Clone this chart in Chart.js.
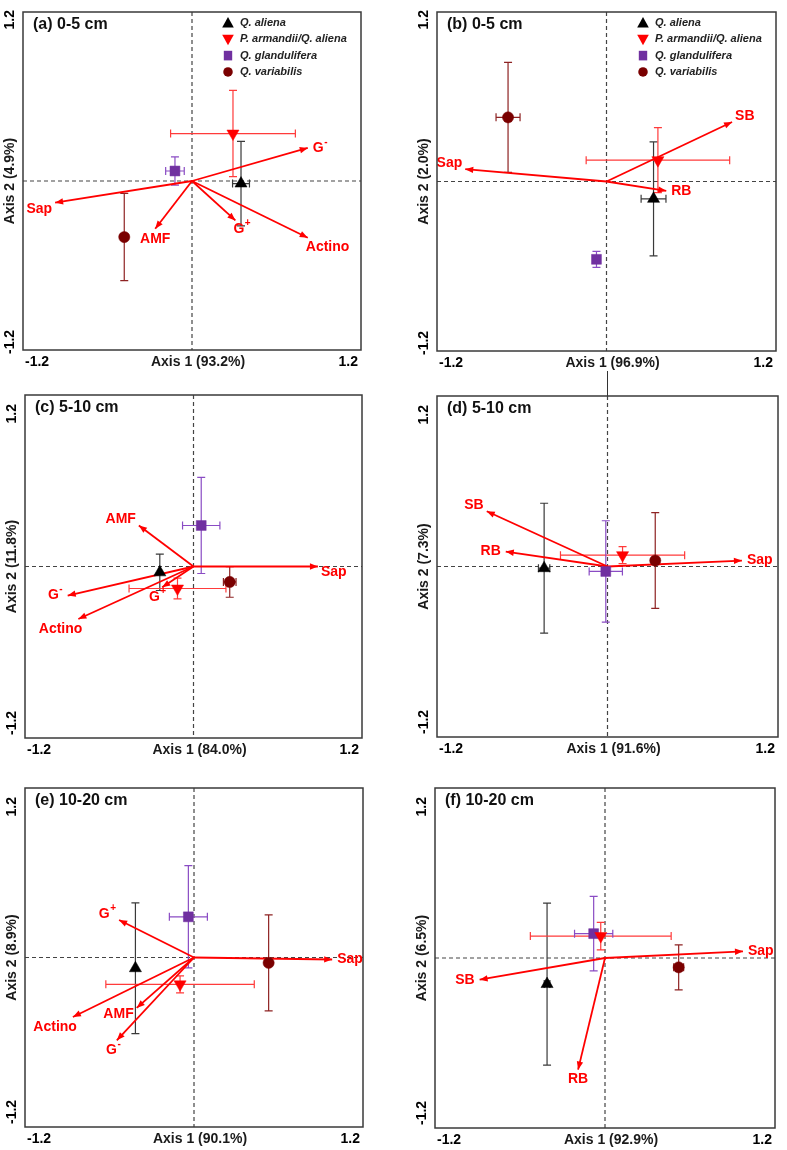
<!DOCTYPE html>
<html><head><meta charset="utf-8">
<script src="https://cdn.jsdelivr.net/npm/chart.js@4.4.0/dist/chart.umd.min.js"></script>
<style>
html,body{margin:0;padding:0;background:#fff;}
body{width:787px;height:1150px;position:relative;overflow:hidden;}
canvas{position:absolute;}
#seam{position:absolute;left:607px;top:371px;width:1px;height:25px;background:#333;}
</style></head><body>
<div id="seam"></div>
<script>
// ---------------- DATA ----------------
const SPECIES = ['Q. aliena', 'P. armandii/Q. aliena', 'Q. glandulifera', 'Q. variabilis'];
const TICK_LABELS = ['-1.2', '1.2'];
const TICK_VALUES = [-1.2, 1.2];

// (a) 0-5 cm, PLFA groups
const TITLE_A = '(a) 0-5 cm';
const AXIS1_A = 'Axis 1 (93.2%)';
const AXIS2_A = 'Axis 2 (4.9%)';
const SITE_X_A = [0.348, 0.291, -0.121, -0.481];
const SITE_Y_A = [-0.018, 0.337, 0.071, -0.398];
const ERR_X_A = [0.06, 0.443, 0.066, 0];
const ERR_Y_A = [0.30, 0.306, 0.10, 0.31];
const VARS_A = ['G⁻', 'Sap', 'AMF', 'G⁺', 'Actino'];
const VAR_X_A = [0.822, -0.972, -0.261, 0.308, 0.822];
const VAR_Y_A = [0.235, -0.154, -0.339, -0.280, -0.403];

// (b) 0-5 cm, bacteria groups
const TITLE_B = '(b) 0-5 cm';
const AXIS1_B = 'Axis 1 (96.9%)';
const AXIS2_B = 'Axis 2 (2.0%)';
const SITE_X_B = [0.333, 0.364, -0.071, -0.697];
const SITE_Y_B = [-0.123, 0.151, -0.551, 0.454];
const ERR_X_B = [0.088, 0.508, 0, 0.085];
const ERR_Y_B = [0.404, 0.23, 0.057, 0.39];
const VARS_B = ['SB', 'Sap', 'RB'];
const VAR_X_B = [0.889, -1.0, 0.423];
const VAR_Y_B = [0.421, 0.087, -0.066];

// (c) 5-10 cm
const TITLE_C = '(c) 5-10 cm';
const AXIS1_C = 'Axis 1 (84.0%)';
const AXIS2_C = 'Axis 2 (11.8%)';
const SITE_X_C = [-0.24, -0.114, 0.055, 0.258];
const SITE_Y_C = [-0.041, -0.154, 0.287, -0.108];
const ERR_X_C = [0, 0.345, 0.133, 0.045];
const ERR_Y_C = [0.127, 0.072, 0.336, 0.107];
const VARS_C = ['AMF', 'Sap', 'G⁻', 'Actino', 'G⁺'];
const VAR_X_C = [-0.389, 0.886, -0.896, -0.82, -0.223];
const VAR_Y_C = [0.287, 0.0, -0.203, -0.367, -0.145];

// (d) 5-10 cm
const TITLE_D = '(d) 5-10 cm';
const AXIS1_D = 'Axis 1 (91.6%)';
const AXIS2_D = 'Axis 2 (7.3%)';
const SITE_X_D = [-0.446, 0.106, -0.012, 0.336];
const SITE_Y_D = [-0.012, 0.08, -0.035, 0.042];
const ERR_X_D = [0.04, 0.437, 0.117, 0];
const ERR_Y_D = [0.457, 0.06, 0.357, 0.337];
const VARS_D = ['SB', 'RB', 'Sap'];
const VAR_X_D = [-0.85, -0.716, 0.946];
const VAR_Y_D = [0.389, 0.105, 0.042];

// (e) 10-20 cm
const TITLE_E = '(e) 10-20 cm';
const AXIS1_E = 'Axis 1 (90.1%)';
const AXIS2_E = 'Axis 2 (8.9%)';
const SITE_X_E = [-0.416, -0.099, -0.04, 0.53];
const SITE_Y_E = [-0.076, -0.19, 0.288, -0.038];
const ERR_X_E = [0, 0.527, 0.135, 0];
const ERR_Y_E = [0.463, 0.06, 0.362, 0.34];
const VARS_E = ['G⁺', 'Sap', 'Actino', 'AMF', 'G⁻'];
const VAR_X_E = [-0.532, 0.981, -0.86, -0.407, -0.548];
const VAR_Y_E = [0.265, -0.014, -0.421, -0.357, -0.586];

// (f) 10-20 cm
const TITLE_F = '(f) 10-20 cm';
const AXIS1_F = 'Axis 1 (92.9%)';
const AXIS2_F = 'Axis 2 (6.5%)';
const SITE_X_F = [-0.409, -0.03, -0.08, 0.52];
const SITE_Y_F = [-0.184, 0.155, 0.172, -0.066];
const ERR_X_F = [0.02, 0.497, 0.135, 0.035];
const ERR_Y_F = [0.572, 0.097, 0.263, 0.159];
const VARS_F = ['Sap', 'SB', 'RB'];
const VAR_X_F = [0.974, -0.885, -0.19];
const VAR_Y_F = [0.047, -0.153, -0.788];

// ---------------- STYLE / LAYOUT ----------------
const FONT = "'Liberation Sans', Arial, Helvetica, sans-serif";
const MARK_COLORS = ['#000000', '#ff0000', '#7030a0', '#7a0000'];
const ERR_COLORS = ['#3a3a3a', '#ff3b3b', '#8a4cc4', '#8e2323'];
const MARK_STYLES = ['triangle', 'triangle', 'rect', 'circle'];
const MARK_ROT = [0, 180, 0, 0];
const MARK_RAD = [7, 7, 7, 5.6];
const ARROW_COLOR = '#ff0000';

// label placement codes: [textAlign, dx, dy]
const PLACE = {
  r: ['left', 5, 0], l: ['right', -5, 0],
  ra: ['left', 3, -6], rb: ['left', 3, 6],
  la: ['right', -3, -6], lb: ['right', -3, 6],
  b: ['center', 0, 10], bl: ['right', 4, 10], br: ['left', -2, 9]
};

const PANELS = [
  {title: TITLE_A, ax1: AXIS1_A, ax2: AXIS2_A, sx: SITE_X_A, sy: SITE_Y_A, ex: ERR_X_A, ey: ERR_Y_A,
   vars: VARS_A, vx: VAR_X_A, vy: VAR_Y_A, place: ['r', 'lb', 'b', 'br', 'br'], legend: true,
   canvas: [0, 0, 393, 382], box: [23, 12, 361, 350], yt: [-2, 4]},
  {title: TITLE_B, ax1: AXIS1_B, ax2: AXIS2_B, sx: SITE_X_B, sy: SITE_Y_B, ex: ERR_X_B, ey: ERR_Y_B,
   vars: VARS_B, vx: VAR_X_B, vy: VAR_Y_B, place: ['ra', 'la', 'r'], legend: true,
   canvas: [393, 0, 394, 382], box: [437, 12, 776, 351], yt: [-2, 4]},
  {title: TITLE_C, ax1: AXIS1_C, ax2: AXIS2_C, sx: SITE_X_C, sy: SITE_Y_C, ex: ERR_X_C, ey: ERR_Y_C,
   vars: VARS_C, vx: VAR_X_C, vy: VAR_Y_C, place: ['la', 'rb', 'l', 'bl', 'bl'], legend: false,
   canvas: [0, 382, 393, 390], box: [25, 395, 362, 738], yt: [9, -3]},
  {title: TITLE_D, ax1: AXIS1_D, ax2: AXIS2_D, sx: SITE_X_D, sy: SITE_Y_D, ex: ERR_X_D, ey: ERR_Y_D,
   vars: VARS_D, vx: VAR_X_D, vy: VAR_Y_D, place: ['la', 'l', 'r'], legend: false,
   canvas: [393, 382, 394, 390], box: [437, 396, 778, 737], yt: [9, -3]},
  {title: TITLE_E, ax1: AXIS1_E, ax2: AXIS2_E, sx: SITE_X_E, sy: SITE_Y_E, ex: ERR_X_E, ey: ERR_Y_E,
   vars: VARS_E, vx: VAR_X_E, vy: VAR_Y_E, place: ['la', 'r', 'bl', 'lb', 'bl'], legend: false,
   canvas: [0, 772, 393, 378], box: [25, 788, 363, 1127], yt: [9, -3]},
  {title: TITLE_F, ax1: AXIS1_F, ax2: AXIS2_F, sx: SITE_X_F, sy: SITE_Y_F, ex: ERR_X_F, ey: ERR_Y_F,
   vars: VARS_F, vx: VAR_X_F, vy: VAR_Y_F, place: ['r', 'l', 'b'], legend: false,
   canvas: [393, 772, 394, 378], box: [435, 788, 775, 1128], yt: [9, -3]}
];

// ---------------- DRAWING HELPERS ----------------
function drawLabel(ctx, text, x, y, align) {
  let base = text, sup = '';
  if (text.endsWith('⁻')) { base = text.slice(0, -1); sup = '-'; }
  else if (text.endsWith('⁺')) { base = text.slice(0, -1); sup = '+'; }
  const F1 = 'bold 14px ' + FONT, F2 = 'bold 10px ' + FONT;
  ctx.font = F1; const wb = ctx.measureText(base).width;
  ctx.font = F2; const ws = sup ? ctx.measureText(sup).width + 0.5 : 0;
  const w = wb + ws;
  const left = align === 'left' ? x : (align === 'right' ? x - w : x - w / 2);
  ctx.textAlign = 'left'; ctx.textBaseline = 'middle';
  ctx.font = F1; ctx.fillText(base, left, y);
  if (sup) { ctx.font = F2; ctx.fillText(sup, left + wb + 0.5, y - 6); }
}

function drawMarker(ctx, i, x, y, s) {
  ctx.fillStyle = MARK_COLORS[i];
  ctx.beginPath();
  if (i === 0) { ctx.moveTo(x, y - 0.6 * s); ctx.lineTo(x + 0.58 * s, y + 0.45 * s); ctx.lineTo(x - 0.58 * s, y + 0.45 * s); }
  else if (i === 1) { ctx.moveTo(x, y + 0.6 * s); ctx.lineTo(x + 0.58 * s, y - 0.45 * s); ctx.lineTo(x - 0.58 * s, y - 0.45 * s); }
  else if (i === 2) { ctx.rect(x - 0.42 * s, y - 0.48 * s, 0.84 * s, 0.96 * s); }
  else { ctx.arc(x, y, 0.5 * s, 0, Math.PI * 2); }
  ctx.closePath(); ctx.fill();
}

const panelPlugin = {
  id: 'panel',
  beforeDatasetsDraw(chart) {
    const p = chart.options.plugins.panel;
    const ctx = chart.ctx, a = chart.chartArea, xs = chart.scales.x, ys = chart.scales.y;
    ctx.save();
    const x0 = xs.getPixelForValue(0), y0 = ys.getPixelForValue(0);
    ctx.strokeStyle = '#444'; ctx.lineWidth = 1.2; ctx.setLineDash([4, 3]);
    ctx.beginPath();
    ctx.moveTo(x0, a.top); ctx.lineTo(x0, a.bottom);
    ctx.moveTo(a.left, y0); ctx.lineTo(a.right, y0);
    ctx.stroke();
    ctx.setLineDash([]);
    p.sx.forEach((sx, i) => {
      const sy = p.sy[i];
      const px = xs.getPixelForValue(sx), py = ys.getPixelForValue(sy);
      ctx.strokeStyle = ERR_COLORS[i]; ctx.lineWidth = 1.2;
      ctx.beginPath();
      if (p.ey[i] > 0) {
        const t = ys.getPixelForValue(sy + p.ey[i]), b = ys.getPixelForValue(sy - p.ey[i]);
        ctx.moveTo(px, t); ctx.lineTo(px, b);
        ctx.moveTo(px - 4, t); ctx.lineTo(px + 4, t);
        ctx.moveTo(px - 4, b); ctx.lineTo(px + 4, b);
      }
      if (p.ex[i] > 0) {
        const l = xs.getPixelForValue(sx - p.ex[i]), r = xs.getPixelForValue(sx + p.ex[i]);
        ctx.moveTo(l, py); ctx.lineTo(r, py);
        ctx.moveTo(l, py - 4); ctx.lineTo(l, py + 4);
        ctx.moveTo(r, py - 4); ctx.lineTo(r, py + 4);
      }
      ctx.stroke();
    });
    ctx.restore();
  },
  afterDatasetsDraw(chart) {
    const p = chart.options.plugins.panel;
    const ctx = chart.ctx, xs = chart.scales.x, ys = chart.scales.y;
    ctx.save();
    const x0 = xs.getPixelForValue(0), y0 = ys.getPixelForValue(0);
    p.vars.forEach((name, k) => {
      const tx = xs.getPixelForValue(p.vx[k]), ty = ys.getPixelForValue(p.vy[k]);
      const ang = Math.atan2(ty - y0, tx - x0);
      const L = 8, W = 3.2;
      ctx.fillStyle = ARROW_COLOR;
      ctx.beginPath();
      ctx.moveTo(tx, ty);
      ctx.lineTo(tx - L * Math.cos(ang) + W * Math.sin(ang), ty - L * Math.sin(ang) - W * Math.cos(ang));
      ctx.lineTo(tx - L * Math.cos(ang) - W * Math.sin(ang), ty - L * Math.sin(ang) + W * Math.cos(ang));
      ctx.closePath(); ctx.fill();
      const pl = PLACE[p.place[k]];
      drawLabel(ctx, name, tx + pl[1], ty + pl[2], pl[0]);
    });
    ctx.restore();
  },
  afterDraw(chart) {
    const p = chart.options.plugins.panel;
    const ctx = chart.ctx, a = chart.chartArea, xs = chart.scales.x;
    ctx.save();
    ctx.strokeStyle = '#3a3a3a'; ctx.lineWidth = 1.5;
    ctx.strokeRect(a.left, a.top, a.right - a.left, a.bottom - a.top);
    // panel title
    ctx.fillStyle = '#111'; ctx.font = 'bold 16px ' + FONT;
    ctx.textAlign = 'left'; ctx.textBaseline = 'middle';
    ctx.fillText(p.title, a.left + 10, a.top + 13);
    // x ticks + axis 1 title
    ctx.font = 'bold 14px ' + FONT; ctx.fillStyle = '#000';
    ctx.textAlign = 'left'; ctx.fillText(TICK_LABELS[0], a.left + 2, a.bottom + 12);
    ctx.textAlign = 'right'; ctx.fillText(TICK_LABELS[1], a.right - 3, a.bottom + 12);
    ctx.fillStyle = '#1a1a1a'; ctx.textAlign = 'center';
    ctx.fillText(p.ax1, (a.left + a.right) / 2 + 6, a.bottom + 12);
    // y ticks + axis 2 title (rotated)
    ctx.save();
    ctx.translate(a.left - 13, 0);
    ctx.rotate(-Math.PI / 2);
    ctx.textBaseline = 'middle';
    ctx.fillStyle = '#000';
    ctx.textAlign = 'right'; ctx.fillText(TICK_LABELS[1], -(a.top + p.yt[0]), 0);
    ctx.textAlign = 'left'; ctx.fillText(TICK_LABELS[0], -(a.bottom + p.yt[1]), 0);
    ctx.fillStyle = '#1a1a1a'; ctx.textAlign = 'center';
    ctx.fillText(p.ax2, -(a.top + a.bottom) / 2, 0);
    ctx.restore();
    // legend
    if (p.legend) {
      ctx.font = 'italic bold 11px ' + FONT; ctx.textAlign = 'left'; ctx.textBaseline = 'middle';
      SPECIES.forEach((sp, i) => {
        const ly = a.top + 11 + i * 16.3;
        drawMarker(ctx, i, a.right - 133, ly, i === 3 ? 9.5 : 10);
        ctx.fillStyle = '#222';
        ctx.fillText(sp, a.right - 121, ly);
      });
    }
    ctx.restore();
  }
};

// ---------------- BUILD CHARTS ----------------
PANELS.forEach(p => {
  const [cl, ct, cw, ch] = p.canvas;
  const [bl, bt, br, bb] = p.box;
  const cv = document.createElement('canvas');
  cv.width = cw; cv.height = ch;
  cv.style.left = cl + 'px'; cv.style.top = ct + 'px';
  cv.style.width = cw + 'px'; cv.style.height = ch + 'px';
  document.body.appendChild(cv);

  const markerSets = SPECIES.map((sp, i) => ({
    label: sp,
    data: [{x: p.sx[i], y: p.sy[i]}],
    pointStyle: MARK_STYLES[i],
    pointRotation: MARK_ROT[i],
    pointRadius: MARK_RAD[i],
    pointBackgroundColor: MARK_COLORS[i],
    pointBorderColor: MARK_COLORS[i],
    pointBorderWidth: 0.5,
    showLine: false
  }));
  const arrowSets = p.vars.map((v, k) => ({
    label: v,
    data: [{x: 0, y: 0}, {x: p.vx[k], y: p.vy[k]}],
    showLine: true,
    borderColor: ARROW_COLOR,
    borderWidth: 1.8,
    pointRadius: 0,
    fill: false
  }));

  new Chart(cv, {
    type: 'scatter',
    data: {datasets: [...markerSets, ...arrowSets]},
    options: {
      responsive: false, animation: false, devicePixelRatio: 1, events: [],
      layout: {padding: {left: bl - cl, right: cl + cw - br, top: bt - ct, bottom: ct + ch - bb}},
      scales: {
        x: {type: 'linear', min: TICK_VALUES[0], max: TICK_VALUES[1], display: false},
        y: {type: 'linear', min: TICK_VALUES[0], max: TICK_VALUES[1], display: false}
      },
      plugins: {legend: {display: false}, tooltip: {enabled: false}, panel: p}
    },
    plugins: [panelPlugin]
  });
});
</script>
</body></html>
